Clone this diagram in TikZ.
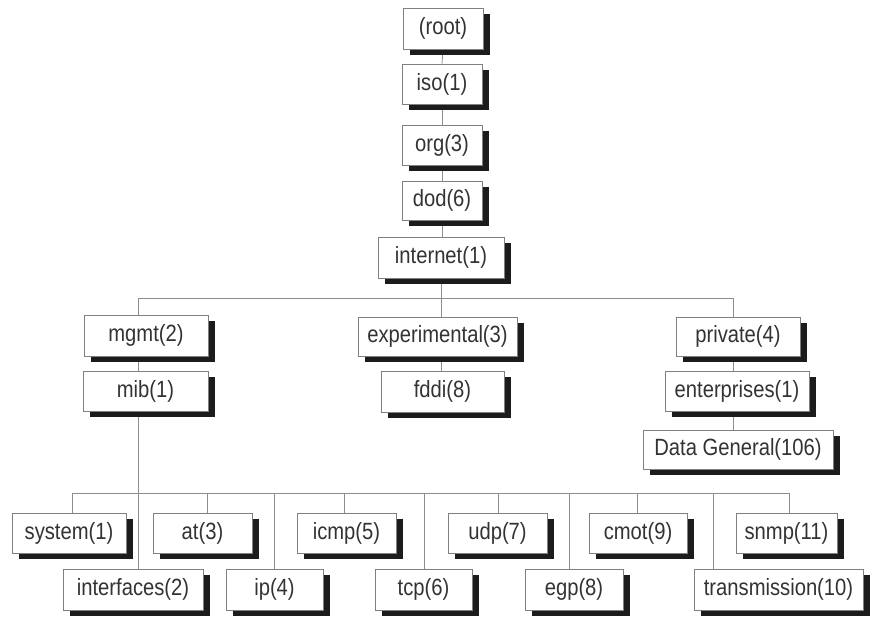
\documentclass[tikz,border=0pt]{standalone}
\usepackage{fontspec}
\setmainfont[FakeStretch=0.86]{Liberation Sans}
\usetikzlibrary{shadows,backgrounds}
\definecolor{txt}{HTML}{333333}
\definecolor{edge}{HTML}{808080}
\definecolor{shd}{HTML}{1C1C1C}
\tikzset{
  box/.style={draw=edge, line width=0.8pt, fill=white, inner sep=0pt,
    text=txt, font=\fontsize{23.5}{26}\selectfont,
    drop shadow={shadow xshift=7pt, shadow yshift=-6pt, fill=shd, opacity=1}},
  link/.style={draw=edge!90, line width=0.8pt}
}
\begin{document}
\begin{tikzpicture}[x=1pt,y=-1pt]
\useasboundingbox (0,0) rectangle (874,617);
% top chain
\node[box, minimum width=80pt, minimum height=41pt] (root) at (443,28.5) {(root)};
\node[box, minimum width=80pt, minimum height=40pt] (iso) at (442,84) {iso(1)};
\node[box, minimum width=80pt, minimum height=40pt] (org) at (442,145) {org(3)};
\node[box, minimum width=80pt, minimum height=39pt] (dod) at (442,200.5) {dod(6)};
\node[box, minimum width=126pt, minimum height=41pt] (internet) at (441,257.5) {internet(1)};
% middle level
\node[box, minimum width=124pt, minimum height=41pt] (mgmt) at (146,335.5) {mgmt(2)};
\node[box, minimum width=125pt, minimum height=40pt] (mib) at (145.5,391) {mib(1)};
\node[box, minimum width=159pt, minimum height=39pt] (exp) at (437.5,336.5) {experimental(3)};
\node[box, minimum width=123pt, minimum height=41pt] (fddi) at (442.5,391.5) {fddi(8)};
\node[box, minimum width=124pt, minimum height=39pt] (private) at (738,336.5) {private(4)};
\node[box, minimum width=144pt, minimum height=40pt] (ent) at (737,391) {enterprises(1)};
\node[box, minimum width=190pt, minimum height=39pt] (dg) at (738,449.5) {Data General(106)};
% bottom row 1
\node[box, minimum width=114pt, minimum height=40pt] (system) at (69,533) {system(1)};
\node[box, minimum width=99pt, minimum height=40pt] (at) at (202.5,533) {at(3)};
\node[box, minimum width=99pt, minimum height=40pt] (icmp) at (346.5,533) {icmp(5)};
\node[box, minimum width=99pt, minimum height=40pt] (udp) at (497.5,533) {udp(7)};
\node[box, minimum width=98pt, minimum height=40pt] (cmot) at (638,533) {cmot(9)};
\node[box, minimum width=101pt, minimum height=40pt] (snmp) at (786.5,533) {snmp(11)};
% bottom row 2
\node[box, minimum width=140pt, minimum height=41pt] (interfaces) at (133,589.5) {interfaces(2)};
\node[box, minimum width=97pt, minimum height=41pt] (ip) at (274.5,589.5) {ip(4)};
\node[box, minimum width=97pt, minimum height=41pt] (tcp) at (423.5,589.5) {tcp(6)};
\node[box, minimum width=98pt, minimum height=41pt] (egp) at (574,589.5) {egp(8)};
\node[box, minimum width=169pt, minimum height=41pt] (trans) at (778.5,589.5) {transmission(10)};
% connectors
\begin{scope}[on background layer]
\coordinate (bL) at (138,298);
\coordinate (bR) at (733,298);
\draw[link] (root.south) -- (iso.north);
\draw[link] (iso.south) -- (org.north);
\draw[link] (org.south) -- (dod.north);
\draw[link] (dod.south) -- (dod.south |- internet.north);
\draw[link] (bL) -- (bR);
\draw[link] (internet.south) -- (internet.south |- exp.north);
\draw[link] (bL) -- (bL |- mgmt.north);
\draw[link] (bR) -- (bR |- private.north);
\draw[link] (bL |- mgmt.south) -- (bL |- mib.north);
\draw[link] (internet.south |- exp.south) -- (internet.south |- fddi.north);
\draw[link] (bR |- private.south) -- (bR |- ent.north);
\draw[link] (bR |- ent.south) -- (bR |- dg.north);
\draw[link] (bL |- mib.south) -- (bL |- interfaces.north);
% lower bus
\coordinate (c1) at (72,493);
\coordinate (c3) at (207,493);
\coordinate (c4) at (274,493);
\coordinate (c5) at (344,493);
\coordinate (c6) at (424,493);
\coordinate (c7) at (498,493);
\coordinate (c8) at (569,493);
\coordinate (c9) at (637,493);
\coordinate (c10) at (713,493);
\coordinate (c11) at (789,493);
\draw[link] (c1) -- (c11);
\draw[link] (c1) -- (c1 |- system.north);
\draw[link] (c3) -- (c3 |- at.north);
\draw[link] (c4) -- (c4 |- ip.north);
\draw[link] (c5) -- (c5 |- icmp.north);
\draw[link] (c6) -- (c6 |- tcp.north);
\draw[link] (c7) -- (c7 |- udp.north);
\draw[link] (c8) -- (c8 |- egp.north);
\draw[link] (c9) -- (c9 |- cmot.north);
\draw[link] (c10) -- (c10 |- trans.north);
\draw[link] (c11) -- (c11 |- snmp.north);
\end{scope}
\end{tikzpicture}
\end{document}
